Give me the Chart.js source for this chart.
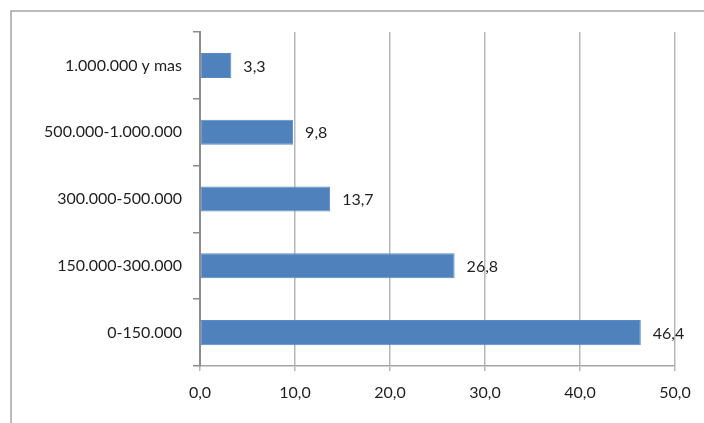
<!DOCTYPE html>
<html>
<head>
<meta charset="utf-8">
<style>
  html, body { margin: 0; padding: 0; background: #ffffff; }
  #wrap { width: 704px; height: 423px; position: relative; }
  canvas { display: block; }
</style>
<script src="https://cdn.jsdelivr.net/npm/chart.js@4/dist/chart.umd.min.js"></script>
</head>
<body>
<div id="wrap"><canvas id="c" width="704" height="423"></canvas></div>
<script>
// Population-size brackets and their shares (%)
const categories = ['1.000.000 y mas', '500.000-1.000.000', '300.000-500.000', '150.000-300.000', '0-150.000'];
const shares = [3.3, 9.8, 13.7, 26.8, 46.4];
const xTicks = [0, 10, 20, 30, 40, 50];

const FONT = 'Lato, "Open Sans", "Liberation Sans", sans-serif';
const TEXT = '#1f1f1f';

const fmt = v => Number(v).toFixed(1).replace('.', ',');

// white background plus the thin frame around the whole chart
const framePlugin = {
  id: 'frame',
  beforeDraw(chart) {
    const ctx = chart.ctx;
    ctx.save();
    ctx.fillStyle = '#ffffff';
    ctx.fillRect(0, 0, chart.width, chart.height);
    ctx.strokeStyle = '#a5a5a5';
    ctx.lineWidth = 1.5;
    ctx.strokeRect(11, 11, chart.width + 10, chart.height + 10);
    ctx.restore();
  }
};

// value labels to the right of each bar
const valueLabels = {
  id: 'valueLabels',
  afterDatasetsDraw(chart) {
    const ctx = chart.ctx;
    ctx.save();
    ctx.font = '16px ' + FONT;
    ctx.fillStyle = TEXT;
    ctx.textAlign = 'left';
    ctx.textBaseline = 'middle';
    chart.data.datasets.forEach((ds, di) => {
      chart.getDatasetMeta(di).data.forEach((bar, i) => {
        ctx.fillText(fmt(ds.data[i]), bar.x + 12, bar.y + 1);
      });
    });
    ctx.restore();
  }
};

new Chart(document.getElementById('c'), {
  type: 'bar',
  data: {
    labels: categories,
    datasets: [{
      data: shares,
      backgroundColor: '#4f81bd',
      borderColor: '#5a8aca',
      borderWidth: 1,
      borderSkipped: false,
      categoryPercentage: 1,
      barPercentage: 0.375
    }]
  },
  options: {
    indexAxis: 'y',
    responsive: false,
    animation: false,
    devicePixelRatio: 1,
    layout: { padding: { top: 32, right: 29, left: 0, bottom: 0 } },
    plugins: { legend: { display: false }, tooltip: { enabled: false } },
    scales: {
      x: {
        min: 0,
        max: 50,
        afterBuildTicks(scale) { scale.ticks = xTicks.map(v => ({ value: v })); },
        afterFit(scale) { scale.height = 57; },
        border: { display: true, color: '#a6a6a6', width: 1.5 },
        grid: {
          color: '#b7b7b7',
          lineWidth: 1.5,
          drawTicks: true,
          tickLength: 5,
          tickColor: '#b7b7b7'
        },
        ticks: {
          callback: v => fmt(v),
          color: TEXT,
          font: { family: FONT, size: 16 },
          padding: 12,
          maxRotation: 0
        }
      },
      y: {
        afterFit(scale) { scale.width = 200; },
        border: { display: true, color: '#8c8c8c', width: 2 },
        grid: {
          offset: true,
          drawOnChartArea: false,
          drawTicks: true,
          tickLength: 7,
          color: '#8c8c8c',
          lineWidth: 1.5
        },
        ticks: {
          color: TEXT,
          font: { family: FONT, size: 16 },
          padding: 11
        }
      }
    }
  },
  plugins: [framePlugin, valueLabels]
});
</script>
</body>
</html>
